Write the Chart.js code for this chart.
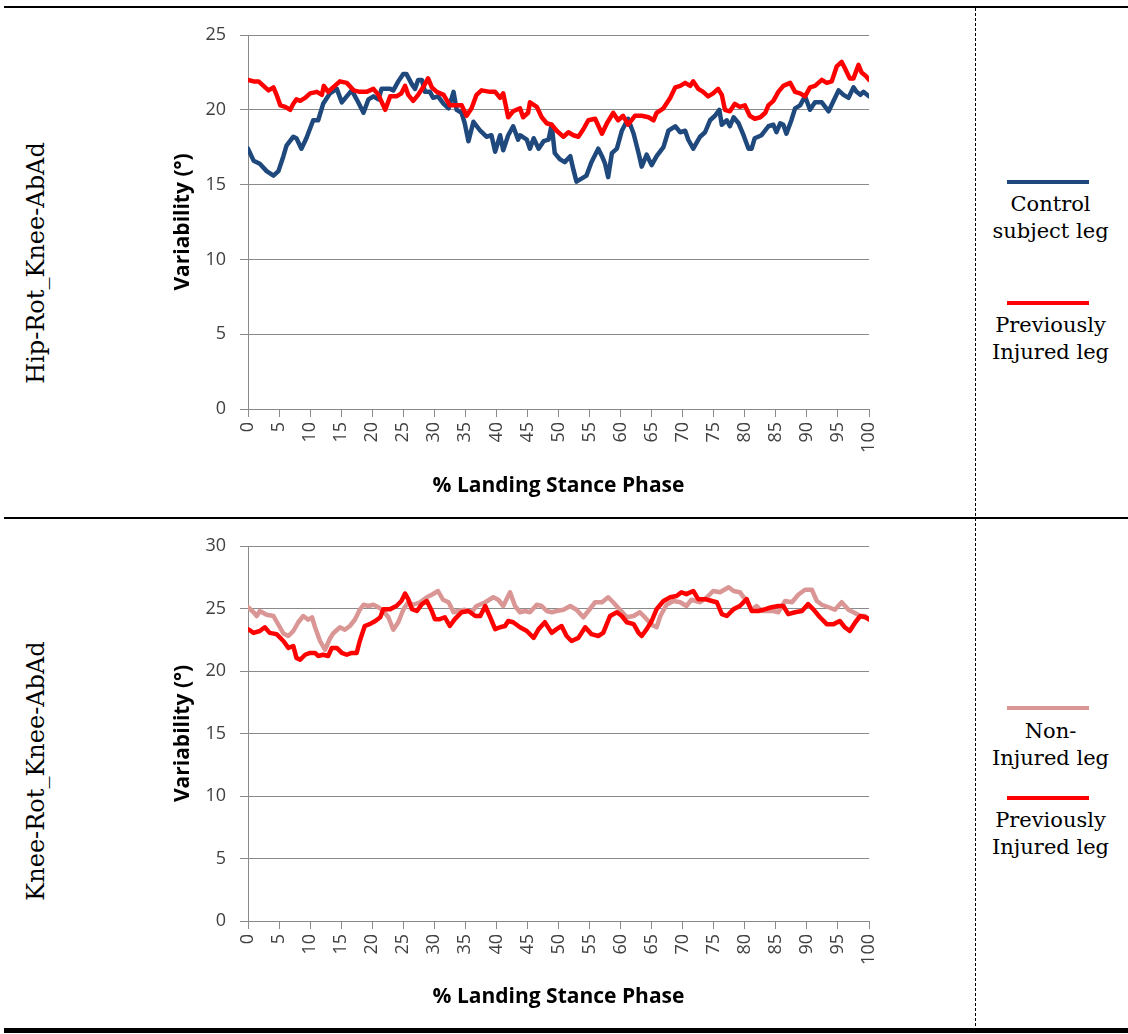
<!DOCTYPE html>
<html><head><meta charset="utf-8">
<script src="https://cdn.jsdelivr.net/npm/chart.js@4.4.1/dist/chart.umd.min.js"></script>
<style>
html,body{margin:0;padding:0;background:#fff;}
body{width:1128px;height:1034px;position:relative;overflow:hidden;}
.hl{position:absolute;background:#000;left:4px;width:1124px;}
.vdash{position:absolute;left:975px;top:8px;width:1px;height:1020px;background:repeating-linear-gradient(to bottom,#000 0 3px,transparent 3px 5px);}
.leg{position:absolute;width:140px;left:980.5px;text-align:center;font-family:"DejaVu Serif",serif;font-size:21px;line-height:27px;color:#000;}
.sw{position:absolute;left:1007px;width:82px;height:4px;}
.rowlab{position:absolute;font-family:"DejaVu Serif",serif;font-size:24px;white-space:nowrap;color:#000;transform:translate(-50%,-50%) rotate(-90deg);}
canvas{position:absolute;}
</style></head><body>
<div class="hl" style="top:6px;height:2px"></div>
<div class="hl" style="top:517px;height:2px"></div>
<div class="hl" style="top:1028px;height:5px"></div>
<div class="vdash"></div>

<div class="rowlab" id="lab1" style="left:36px;top:263px"></div>
<div class="rowlab" id="lab2" style="left:36px;top:771px"></div>

<div class="sw" id="sw1" style="top:180px"></div>
<div class="leg" id="leg1" style="top:191px"></div>
<div class="sw" id="sw2" style="top:301px"></div>
<div class="leg" id="leg2" style="top:312px"></div>
<div class="sw" id="sw3" style="top:706px"></div>
<div class="leg" id="leg3" style="top:718px"></div>
<div class="sw" id="sw4" style="top:796px"></div>
<div class="leg" id="leg4" style="top:807px"></div>

<canvas id="c1" width="720" height="495" style="left:160px;top:15px"></canvas>
<canvas id="c2" width="720" height="495" style="left:160px;top:526px"></canvas>

<script>
// ---------- data ----------
const rowLabels = ["Hip-Rot_Knee-AbAd", "Knee-Rot_Knee-AbAd"];
const xTitle = "% Landing Stance Phase";
const yTitle = "Variability (\u00b0)";
const xTickValues = [0,5,10,15,20,25,30,35,40,45,50,55,60,65,70,75,80,85,90,95,100];
const hipYTicks = [0,5,10,15,20,25];
const kneeYTicks = [0,5,10,15,20,25,30];

const hipSeriesNames = ["Control subject leg", "Previously Injured leg"];
const kneeSeriesNames = ["Non-Injured leg", "Previously Injured leg"];

const hipControlX = [0,0.9,1.9,3.0,4.1,4.9,5.7,6.2,7.3,7.8,8.6,9.4,10.5,11.3,12.1,13.2,14.3,15.1,15.9,16.7,17.5,18.6,19.4,20.2,21.0,21.5,22.9,23.4,24.2,25.0,25.5,26.4,26.9,27.4,28.0,28.5,29.3,29.8,30.6,31.5,32.3,33.1,33.6,34.4,34.9,35.5,36.3,37.4,38.4,39.2,39.8,40.6,41.1,41.9,42.7,43.5,43.8,44.9,45.4,46.0,46.8,47.6,48.4,48.9,49.4,50.2,51.0,51.9,52.4,52.9,53.7,54.5,55.3,56.4,57.0,57.5,58.0,58.6,59.4,60.2,61.2,62.1,62.9,63.4,64.2,65.0,65.8,66.9,67.7,68.8,69.6,70.4,70.9,71.7,72.8,73.6,74.4,75.2,75.9,76.3,77.1,77.6,78.2,79.0,79.8,80.6,81.1,81.6,82.7,83.8,84.6,85.1,85.7,86.2,86.7,87.5,88.1,88.9,89.7,90.5,91.3,92.4,93.5,94.3,95.1,95.9,96.7,97.5,98.0,98.6,99.1,100];
const hipControlY = [17.4,16.6,16.4,15.9,15.6,15.9,16.9,17.6,18.2,18.1,17.4,18.1,19.3,19.3,20.4,21.1,21.4,20.5,20.9,21.3,20.7,19.8,20.7,20.9,20.7,21.4,21.4,21.3,21.9,22.4,22.4,21.7,21.4,22.0,22.0,21.2,21.2,20.8,20.9,20.4,20.1,21.2,20.0,19.8,19.1,17.9,19.2,18.6,18.2,18.3,17.2,18.3,17.3,18.3,18.9,18.0,18.3,18.0,17.4,18.1,17.4,17.9,18.0,19.0,17.1,16.7,16.5,16.9,16.0,15.2,15.4,15.6,16.5,17.4,16.9,16.4,15.5,17.1,17.4,18.6,19.4,18.4,17.1,16.2,17.0,16.3,16.9,17.5,18.6,18.9,18.5,18.6,18.0,17.4,18.2,18.5,19.3,19.6,20.0,19.0,19.3,18.9,19.5,19.1,18.3,17.4,17.4,18.1,18.3,18.9,19.0,18.5,19.1,19.0,18.4,19.3,20.1,20.3,20.9,20.0,20.5,20.5,19.9,20.6,21.3,21.0,20.8,21.5,21.2,21.0,21.2,20.9];

const hipInjuredX = [0,0.9,1.7,2.5,3.3,4.1,4.6,5.2,6.0,6.8,7.3,7.8,8.4,9.2,10.0,11.1,11.9,12.2,12.9,13.7,14.8,15.9,17.0,18.0,19.1,20.2,21.0,22.1,22.9,23.9,24.7,25.3,25.8,26.6,27.4,28.2,29.0,29.6,30.4,31.5,32.5,33.6,34.4,35.2,36.0,36.8,37.6,39.0,39.8,40.6,41.1,41.9,42.7,43.8,44.3,45.1,45.4,46.5,47.3,48.1,48.9,49.7,50.8,51.6,52.4,53.2,54.0,54.8,55.9,57.0,57.8,58.8,59.6,60.4,61.2,62.3,63.4,64.5,65.3,65.8,66.9,68.0,68.8,69.6,70.4,71.2,71.7,72.5,73.3,74.1,74.9,75.7,76.3,76.8,77.6,78.4,79.2,80.0,80.8,81.6,82.5,83.3,83.8,84.6,85.4,86.2,87.3,88.1,88.9,89.7,90.5,91.3,92.4,93.2,94.0,94.8,95.6,96.1,96.9,97.5,98.3,98.8,99.4,100];
const hipInjuredY = [22.0,21.9,21.9,21.6,21.3,21.5,21.0,20.3,20.2,20.0,20.4,20.7,20.6,20.8,21.1,21.2,21.0,21.6,21.2,21.5,21.9,21.8,21.3,21.2,21.2,21.4,21.0,20.0,20.9,20.9,21.1,21.6,21.0,20.6,21.0,21.5,22.1,21.5,21.2,21.0,20.3,20.3,20.3,19.6,20.1,21.0,21.3,21.2,21.2,20.8,21.1,19.5,19.9,20.1,19.5,19.8,20.5,20.2,19.5,19.1,19.0,18.6,18.2,18.5,18.3,18.2,18.7,19.3,19.4,18.4,19.1,19.8,19.3,19.6,19.0,19.6,19.6,19.5,19.3,19.8,20.1,20.8,21.5,21.6,21.8,21.6,21.9,21.4,21.2,20.9,21.1,21.4,21.0,20.0,19.9,20.4,20.2,20.3,19.6,19.4,19.5,19.8,20.3,20.6,21.2,21.6,21.8,21.2,21.1,20.9,21.5,21.6,22.0,21.8,21.9,22.9,23.2,22.8,22.1,22.1,23.0,22.5,22.3,22.0];

const kneeNonInjuredX = [0,0.9,1.4,1.9,3.0,4.1,4.9,5.7,6.5,7.3,8.1,8.9,9.7,10.3,10.8,11.6,12.4,13.2,13.7,14.8,15.6,16.4,17.2,18.0,18.6,19.4,20.2,21.0,21.8,22.6,23.4,24.2,25.0,25.8,26.6,27.7,28.8,29.6,30.6,31.4,32.3,33.1,33.9,34.9,36.0,36.8,38.2,39.5,40.3,41.1,42.2,43.0,43.8,44.6,45.4,46.5,47.3,48.1,48.9,49.7,50.8,51.9,52.9,54.0,54.8,55.9,57.0,58.0,58.8,59.9,61.0,62.1,63.1,63.9,65.0,65.8,66.4,67.4,68.5,69.6,70.6,71.4,72.8,73.9,74.9,76.0,77.4,78.2,79.2,80.3,81.1,81.9,82.7,83.8,84.6,85.4,86.5,87.6,88.6,89.7,90.8,91.6,92.4,93.5,94.5,95.6,96.7,97.5,98.6,99.4,100];
const kneeNonInjuredY = [25.1,24.7,24.4,24.8,24.5,24.4,23.7,23.0,22.8,23.2,23.9,24.4,24.1,24.3,23.5,22.4,21.7,22.6,23.0,23.5,23.3,23.6,24.1,24.9,25.3,25.2,25.3,25.1,24.8,24.3,23.3,23.9,24.9,25.5,25.3,25.5,25.9,26.1,26.4,25.7,25.5,24.7,24.8,24.9,24.7,25.2,25.5,25.9,25.7,25.2,26.3,25.2,24.7,24.8,24.7,25.3,25.2,24.8,24.7,24.8,24.9,25.2,24.9,24.3,24.8,25.5,25.5,25.9,25.5,24.9,24.3,24.4,24.7,24.3,23.7,23.5,24.4,25.3,25.6,25.5,25.2,25.7,25.5,25.9,26.4,26.3,26.7,26.4,26.3,25.6,24.9,25.2,24.8,24.8,24.8,24.7,25.6,25.5,26.1,26.5,26.5,25.6,25.3,25.1,24.9,25.5,24.9,24.7,24.4,24.4,24.1];

const kneeInjuredX = [0,0.9,1.9,2.7,3.5,4.6,5.7,6.5,7.3,7.8,8.4,9.2,10.0,10.8,11.3,12.1,12.9,13.5,14.3,15.1,15.9,16.7,17.5,18.0,18.8,19.6,20.5,21.3,21.8,22.9,23.9,24.7,25.3,25.8,26.4,27.2,28.0,28.8,29.6,30.1,30.9,31.7,32.5,33.3,34.4,35.5,36.6,37.4,38.2,39.0,39.8,40.6,41.4,41.9,42.7,43.8,44.9,46.0,46.8,47.8,48.9,49.7,50.5,51.3,52.1,53.2,54.3,55.3,56.4,57.2,58.3,59.4,60.2,61.0,62.1,62.9,63.4,64.2,65.0,65.8,66.9,68.0,69.0,69.8,70.6,71.7,72.5,73.6,74.7,75.5,76.3,77.1,78.2,79.2,80.3,81.1,82.2,83.3,84.3,85.4,86.2,87.0,88.1,89.2,90.2,91.0,92.1,93.2,94.3,95.3,96.1,96.9,97.8,98.6,99.4,100];
const kneeInjuredY = [23.35,23.05,23.2,23.5,23.05,22.95,22.4,21.85,22.0,21.05,20.9,21.3,21.45,21.45,21.2,21.3,21.2,21.85,21.85,21.45,21.3,21.45,21.45,22.4,23.6,23.75,24.0,24.3,24.95,24.95,25.2,25.6,26.2,25.75,24.95,24.8,25.35,25.6,24.8,24.15,24.15,24.3,23.6,24.15,24.7,24.8,24.4,24.4,25.2,24.3,23.35,23.5,23.6,24.0,23.9,23.5,23.2,22.65,23.35,23.9,23.05,23.35,23.6,22.8,22.4,22.65,23.5,22.95,22.8,23.05,24.4,24.7,24.4,23.9,23.75,23.05,22.8,23.35,24.0,24.95,25.6,25.9,26.0,26.3,26.15,26.4,25.75,25.75,25.6,25.5,24.55,24.4,24.95,25.2,25.75,24.8,24.8,24.95,25.1,25.2,25.2,24.55,24.7,24.8,25.35,24.95,24.3,23.75,23.75,24.0,23.5,23.2,23.9,24.4,24.3,24.15];

const colNavy = "#1F497D", colRed = "#FF0000", colPink = "#D99694";

// ---------- DOM text ----------
document.getElementById("lab1").textContent = rowLabels[0];
document.getElementById("lab2").textContent = rowLabels[1];
document.getElementById("leg1").innerHTML = "Control<br>subject leg";
document.getElementById("leg2").innerHTML = "Previously<br>Injured leg";
document.getElementById("leg3").innerHTML = "Non-<br>Injured leg";
document.getElementById("leg4").innerHTML = "Previously<br>Injured leg";
document.getElementById("sw1").style.background = colNavy;
document.getElementById("sw2").style.background = colRed;
document.getElementById("sw3").style.background = colPink;
document.getElementById("sw4").style.background = colRed;

// ---------- charts ----------
const pts = (xs, ys) => xs.map((x, i) => ({x: x, y: ys[i]}));
const gridCol = "#8A8A8A";
const tickFont = {family: "'Open Sans'", size: 18};
const titleFont = {family: "'Open Sans'", size: 21, weight: "bold"};

function makeChart(id, yTicks, datasets, xAxisH) {
  return new Chart(document.getElementById(id), {
    type: "line",
    data: {datasets: datasets},
    options: {
      responsive: false, animation: false, devicePixelRatio: 1,
      layout: {padding: {left: 0, right: 11, top: 20, bottom: 0}},
      plugins: {legend: {display: false}, tooltip: {enabled: false}},
      elements: {point: {radius: 0}, line: {borderWidth: 4.5, tension: 0, borderJoinStyle: "round", borderCapStyle: "round"}},
      scales: {
        x: {
          type: "linear", min: 0, max: 100,
          afterFit: s => { s.height = xAxisH; s.paddingLeft = 0; s.paddingRight = 0; },
          afterBuildTicks: s => { s.ticks = xTickValues.map(v => ({value: v})); },
          ticks: {autoSkip: false, minRotation: 90, maxRotation: 90, padding: 5, font: tickFont, color: "#404040"},
          grid: {drawOnChartArea: false, drawTicks: true, tickLength: 8, color: gridCol},
          border: {color: gridCol, width: 1},
          title: {display: true, text: xTitle, font: titleFont, color: "#000", padding: {top: 0, bottom: 11}}
        },
        y: {
          min: yTicks[0], max: yTicks[yTicks.length - 1],
          afterFit: s => { s.width = 88; s.paddingTop = 0; s.paddingBottom = 0; },
          afterBuildTicks: s => { s.ticks = yTicks.map(v => ({value: v})); },
          ticks: {padding: 14, font: tickFont, color: "#404040"},
          grid: {color: gridCol, tickLength: 8, drawTicks: true},
          border: {color: gridCol, width: 1},
          title: {display: true, text: yTitle, font: titleFont, color: "#000", padding: {top: 10, bottom: 0}}
        }
      }
    }
  });
}

makeChart("c1", hipYTicks, [
  {label: hipSeriesNames[1], data: pts(hipInjuredX, hipInjuredY), borderColor: colRed, fill: false},
  {label: hipSeriesNames[0], data: pts(hipControlX, hipControlY), borderColor: colNavy, fill: false}
], 101);

makeChart("c2", kneeYTicks, [
  {label: kneeSeriesNames[1], data: pts(kneeInjuredX, kneeInjuredY), borderColor: colRed, fill: false},
  {label: kneeSeriesNames[0], data: pts(kneeNonInjuredX, kneeNonInjuredY), borderColor: colPink, fill: false}
], 100);
</script>
</body></html>
